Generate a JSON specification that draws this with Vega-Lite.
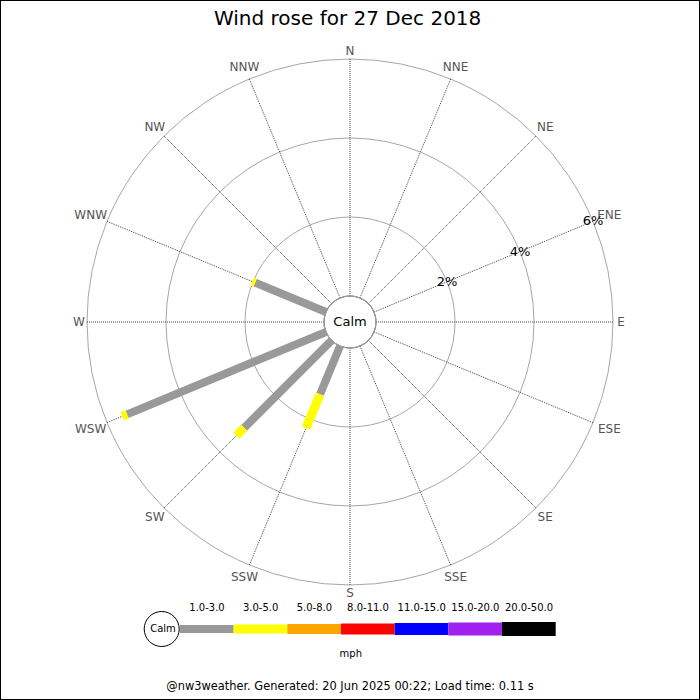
{
  "$schema": "https://vega.github.io/schema/vega-lite/v6.json",
  "width": 700,
  "height": 700,
  "autosize": {"type": "none"},
  "padding": 0,
  "background": "white",
  "config": {
    "font": "DejaVu Sans",
    "view": {"stroke": "black", "strokeWidth": 2},
    "text": {"font": "DejaVu Sans"}
  },
  "datasets": {
    "dirs": [
      {"dir": "N", "angle": 0}, {"dir": "NNE", "angle": 22.5}, {"dir": "NE", "angle": 45}, {"dir": "ENE", "angle": 67.5},
      {"dir": "E", "angle": 90}, {"dir": "ESE", "angle": 112.5}, {"dir": "SE", "angle": 135}, {"dir": "SSE", "angle": 157.5},
      {"dir": "S", "angle": 180}, {"dir": "SSW", "angle": 202.5}, {"dir": "SW", "angle": 225}, {"dir": "WSW", "angle": 247.5},
      {"dir": "W", "angle": 270}, {"dir": "WNW", "angle": 292.5}, {"dir": "NW", "angle": 315}, {"dir": "NNW", "angle": 337.5}
    ],
    "rings": [
      {"pct": 2, "label": "2%"}, {"pct": 4, "label": "4%"}, {"pct": 6, "label": "6%"}
    ],
    "bars": [
      {"dir": "WNW", "angle": 292.5, "cls": "1.0-3.0", "pct": 1.94},
      {"dir": "WNW", "angle": 292.5, "cls": "3.0-5.0", "pct": 0.08},
      {"dir": "WSW", "angle": 247.5, "cls": "1.0-3.0", "pct": 5.45},
      {"dir": "WSW", "angle": 247.5, "cls": "3.0-5.0", "pct": 0.13},
      {"dir": "SW", "angle": 225, "cls": "1.0-3.0", "pct": 3.13},
      {"dir": "SW", "angle": 225, "cls": "3.0-5.0", "pct": 0.28},
      {"dir": "SSW", "angle": 202.5, "cls": "1.0-3.0", "pct": 1.32},
      {"dir": "SSW", "angle": 202.5, "cls": "3.0-5.0", "pct": 0.93}
    ],
    "legend": [
      {"cls": "1.0-3.0", "lo": 1, "hi": 3},
      {"cls": "3.0-5.0", "lo": 3, "hi": 5},
      {"cls": "5.0-8.0", "lo": 5, "hi": 8},
      {"cls": "8.0-11.0", "lo": 8, "hi": 11},
      {"cls": "11.0-15.0", "lo": 11, "hi": 15},
      {"cls": "15.0-20.0", "lo": 15, "hi": 20},
      {"cls": "20.0-50.0", "lo": 20, "hi": 50}
    ]
  },
  "resolve": {"scale": {"x": "independent"}},
  "layer": [
    {
      "layer": [
        {
          "data": {"name": "rings"},
          "mark": {"type": "arc", "filled": false, "fill": null, "stroke": "#a6a6a6", "strokeWidth": 1, "theta": 0, "theta2": 6.2832},
          "encoding": {
            "x": {"datum": 0, "type": "quantitative", "scale": {"domain": [-8.8608, 8.8608], "nice": false, "zero": false}, "axis": null},
            "y": {"datum": 0, "type": "quantitative", "scale": {"domain": [-9.5696, 8.1519], "nice": false, "zero": false}, "axis": null},
            "radius": {"field": "pct", "type": "quantitative", "stack": null, "scale": {"type": "linear", "domain": [-0.6582, 8.2026], "zero": false, "nice": false}}
          }
        },
        {
          "data": {"name": "dirs"},
          "transform": [
            {"calculate": "datum.angle*PI/180", "as": "rad"},
            {"calculate": "0.6582*sin(datum.rad)", "as": "x1"},
            {"calculate": "0.6582*cos(datum.rad)", "as": "y1"},
            {"calculate": "6.6582*sin(datum.rad)", "as": "x2"},
            {"calculate": "6.6582*cos(datum.rad)", "as": "y2"}
          ],
          "mark": {"type": "rule", "stroke": "#444444", "strokeWidth": 1, "strokeDash": [1, 1]},
          "encoding": {
            "x": {"field": "x1", "type": "quantitative", "scale": {"domain": [-8.8608, 8.8608], "nice": false, "zero": false}, "axis": null},
            "y": {"field": "y1", "type": "quantitative", "scale": {"domain": [-9.5696, 8.1519], "nice": false, "zero": false}, "axis": null},
            "x2": {"field": "x2"},
            "y2": {"field": "y2"}
          }
        },
        {
          "data": {"name": "bars"},
          "transform": [
            {"window": [{"op": "sum", "field": "pct", "as": "cum"}], "groupby": ["dir"], "sort": [{"field": "cls", "order": "ascending"}]},
            {"calculate": "datum.cum - datum.pct", "as": "from"},
            {"calculate": "datum.angle*PI/180", "as": "rad"},
            {"calculate": "(datum.from+0.6582)*sin(datum.rad)", "as": "x1"},
            {"calculate": "(datum.from+0.6582)*cos(datum.rad)", "as": "y1"},
            {"calculate": "(datum.cum+0.6582)*sin(datum.rad)", "as": "x2"},
            {"calculate": "(datum.cum+0.6582)*cos(datum.rad)", "as": "y2"}
          ],
          "mark": {"type": "rule", "strokeCap": "butt"},
          "encoding": {
            "x": {"field": "x1", "type": "quantitative", "scale": {"domain": [-8.8608, 8.8608], "nice": false, "zero": false}, "axis": null},
            "y": {"field": "y1", "type": "quantitative", "scale": {"domain": [-9.5696, 8.1519], "nice": false, "zero": false}, "axis": null},
            "x2": {"field": "x2"},
            "y2": {"field": "y2"},
            "color": {"field": "cls", "type": "nominal", "legend": null,
              "scale": {"domain": ["1.0-3.0", "3.0-5.0", "5.0-8.0", "8.0-11.0", "11.0-15.0", "15.0-20.0", "20.0-50.0"],
                        "range": ["#999999", "#ffff00", "#ffa500", "#ff0000", "#0000ff", "#a020f0", "#000000"]}},
            "strokeWidth": {"field": "cls", "type": "nominal", "legend": null,
              "scale": {"domain": ["1.0-3.0", "3.0-5.0", "5.0-8.0", "8.0-11.0", "11.0-15.0", "15.0-20.0", "20.0-50.0"],
                        "range": [8, 14, 21, 23, 25, 27, 29]}}
          }
        },
        {
          "data": {"values": [{"label": "Calm"}]},
          "mark": {"type": "arc", "fill": "white", "stroke": "#999999", "strokeWidth": 1, "theta": 0, "theta2": 6.2832},
          "encoding": {
            "x": {"datum": 0, "type": "quantitative", "scale": {"domain": [-8.8608, 8.8608], "nice": false, "zero": false}, "axis": null},
            "y": {"datum": 0, "type": "quantitative", "scale": {"domain": [-9.5696, 8.1519], "nice": false, "zero": false}, "axis": null},
            "radius": {"datum": 0, "type": "quantitative", "stack": null, "scale": {"type": "linear", "domain": [-0.6582, 8.2026], "zero": false, "nice": false}}
          }
        },
        {
          "data": {"values": [{"label": "Calm"}]},
          "mark": {"type": "text", "fontSize": 13, "align": "center", "baseline": "middle", "color": "black"},
          "encoding": {
            "x": {"datum": 0, "type": "quantitative", "scale": {"domain": [-8.8608, 8.8608], "nice": false, "zero": false}, "axis": null},
            "y": {"datum": 0, "type": "quantitative", "scale": {"domain": [-9.5696, 8.1519], "nice": false, "zero": false}, "axis": null},
            "text": {"field": "label"}
          }
        },
        {
          "data": {"name": "dirs"},
          "transform": [
            {"calculate": "datum.angle*PI/180", "as": "rad"},
            {"calculate": "6.747 + 0.1139*abs(cos(datum.rad)) + 0.1139*length(datum.dir)*abs(sin(datum.rad))", "as": "lr"},
            {"calculate": "datum.lr*sin(datum.rad)", "as": "lx"},
            {"calculate": "datum.lr*cos(datum.rad)", "as": "ly"}
          ],
          "mark": {"type": "text", "fontSize": 12, "align": "center", "baseline": "middle", "color": "#555555"},
          "encoding": {
            "x": {"field": "lx", "type": "quantitative", "scale": {"domain": [-8.8608, 8.8608], "nice": false, "zero": false}, "axis": null},
            "y": {"field": "ly", "type": "quantitative", "scale": {"domain": [-9.5696, 8.1519], "nice": false, "zero": false}, "axis": null},
            "text": {"field": "dir"}
          }
        },
        {
          "data": {"name": "rings"},
          "transform": [
            {"calculate": "(datum.pct+0.6582)*0.92388", "as": "lx"},
            {"calculate": "(datum.pct+0.6582)*0.38268", "as": "ly"}
          ],
          "mark": {"type": "text", "fontSize": 13, "align": "center", "baseline": "middle", "color": "black"},
          "encoding": {
            "x": {"field": "lx", "type": "quantitative", "scale": {"domain": [-8.8608, 8.8608], "nice": false, "zero": false}, "axis": null},
            "y": {"field": "ly", "type": "quantitative", "scale": {"domain": [-9.5696, 8.1519], "nice": false, "zero": false}, "axis": null},
            "text": {"field": "label"}
          }
        },
        {
          "data": {"values": [{"t": "Wind rose for 27 Dec 2018"}]},
          "mark": {"type": "text", "fontSize": 20, "align": "center", "baseline": "alphabetic", "color": "black"},
          "encoding": {
            "x": {"datum": -0.06, "type": "quantitative", "scale": {"domain": [-8.8608, 8.8608], "nice": false, "zero": false}, "axis": null},
            "y": {"datum": 7.527, "type": "quantitative", "scale": {"domain": [-9.5696, 8.1519], "nice": false, "zero": false}, "axis": null},
            "text": {"field": "t"}
          }
        },
        {
          "data": {"values": [{"t": "mph"}]},
          "mark": {"type": "text", "fontSize": 10, "align": "center", "baseline": "alphabetic", "color": "black"},
          "encoding": {
            "x": {"datum": 0.02, "type": "quantitative", "scale": {"domain": [-8.8608, 8.8608], "nice": false, "zero": false}, "axis": null},
            "y": {"datum": -8.481, "type": "quantitative", "scale": {"domain": [-9.5696, 8.1519], "nice": false, "zero": false}, "axis": null},
            "text": {"field": "t"}
          }
        },
        {
          "data": {"values": [{"t": "@nw3weather. Generated: 20 Jun 2025 00:22; Load time: 0.11 s"}]},
          "mark": {"type": "text", "fontSize": 11.4, "align": "center", "baseline": "alphabetic", "color": "black"},
          "encoding": {
            "x": {"datum": 0, "type": "quantitative", "scale": {"domain": [-8.8608, 8.8608], "nice": false, "zero": false}, "axis": null},
            "y": {"datum": -9.329, "type": "quantitative", "scale": {"domain": [-9.5696, 8.1519], "nice": false, "zero": false}, "axis": null},
            "text": {"field": "t"}
          }
        }
      ]
    },
    {
      "layer": [
        {
          "data": {"name": "legend"},
          "mark": {"type": "rule", "strokeCap": "butt"},
          "encoding": {
            "x": {"field": "lo", "type": "ordinal", "axis": null,
              "scale": {"type": "point", "domain": [1, 3, 5, 8, 11, 15, 20, 50], "range": [180, 555.7], "padding": 0, "round": false}},
            "x2": {"field": "hi"},
            "y": {"datum": -7.772, "type": "quantitative", "scale": {"domain": [-9.5696, 8.1519], "nice": false, "zero": false}, "axis": null},
            "color": {"field": "cls", "type": "nominal", "legend": null,
              "scale": {"domain": ["1.0-3.0", "3.0-5.0", "5.0-8.0", "8.0-11.0", "11.0-15.0", "15.0-20.0", "20.0-50.0"],
                        "range": ["#999999", "#ffff00", "#ffa500", "#ff0000", "#0000ff", "#a020f0", "#000000"]}},
            "strokeWidth": {"field": "cls", "type": "nominal", "legend": null,
              "scale": {"domain": ["1.0-3.0", "3.0-5.0", "5.0-8.0", "8.0-11.0", "11.0-15.0", "15.0-20.0", "20.0-50.0"],
                        "range": [8, 14, 21, 23, 25, 27, 29]}}
          }
        },
        {
          "data": {"name": "legend"},
          "mark": {"type": "text", "fontSize": 10, "align": "center", "baseline": "alphabetic", "color": "black", "dx": 27},
          "encoding": {
            "x": {"field": "lo", "type": "ordinal", "axis": null,
              "scale": {"type": "point", "domain": [1, 3, 5, 8, 11, 15, 20, 50], "range": [180, 555.7], "padding": 0, "round": false}},
            "y": {"datum": -7.316, "type": "quantitative", "scale": {"domain": [-9.5696, 8.1519], "nice": false, "zero": false}, "axis": null},
            "text": {"field": "cls"}
          }
        },
        {
          "data": {"values": [{"label": "Calm"}]},
          "mark": {"type": "point", "shape": "circle", "size": 1225, "filled": true, "fill": "white", "stroke": "black", "strokeWidth": 1, "opacity": 1, "xOffset": -18.3},
          "encoding": {
            "x": {"datum": 1, "type": "ordinal", "axis": null,
              "scale": {"type": "point", "domain": [1, 3, 5, 8, 11, 15, 20, 50], "range": [180, 555.7], "padding": 0, "round": false}},
            "y": {"datum": -7.772, "type": "quantitative", "scale": {"domain": [-9.5696, 8.1519], "nice": false, "zero": false}, "axis": null}
          }
        },
        {
          "data": {"values": [{"label": "Calm"}]},
          "mark": {"type": "text", "fontSize": 10, "align": "center", "baseline": "middle", "color": "black", "dx": -17},
          "encoding": {
            "x": {"datum": 1, "type": "ordinal", "axis": null,
              "scale": {"type": "point", "domain": [1, 3, 5, 8, 11, 15, 20, 50], "range": [180, 555.7], "padding": 0, "round": false}},
            "y": {"datum": -7.772, "type": "quantitative", "scale": {"domain": [-9.5696, 8.1519], "nice": false, "zero": false}, "axis": null},
            "text": {"field": "label"}
          }
        }
      ]
    }
  ]
}
